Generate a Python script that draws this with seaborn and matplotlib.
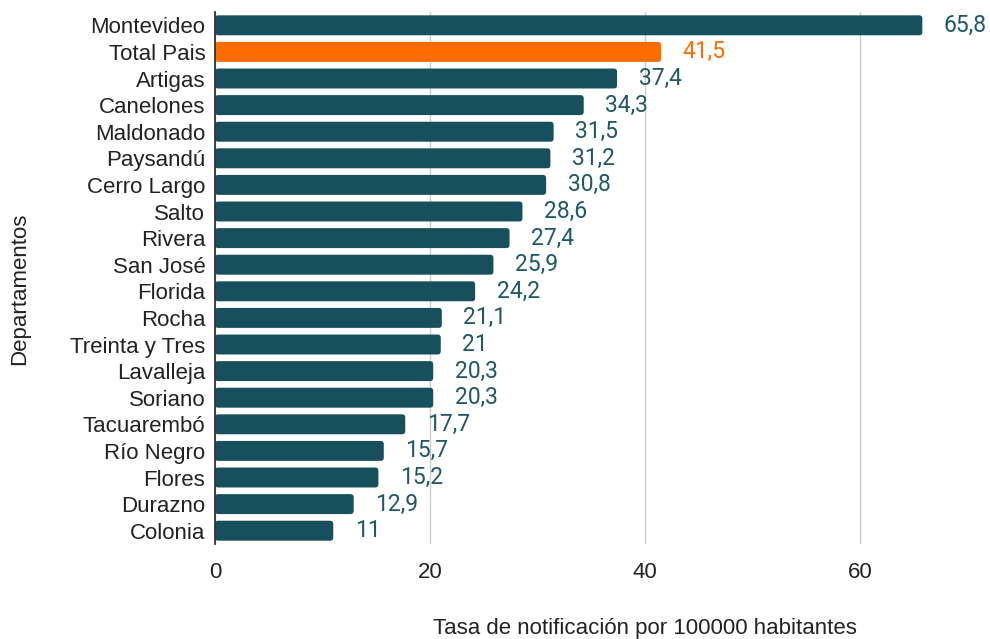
import numpy as np
import pandas as pd
import matplotlib
matplotlib.use('Agg')
import matplotlib.pyplot as plt
import seaborn as sns
from matplotlib.patches import FancyBboxPatch

# ── data ──────────────────────────────────────────────
departamentos = ['Montevideo', 'Total Pais', 'Artigas', 'Canelones', 'Maldonado',
                 'Paysandú', 'Cerro Largo', 'Salto', 'Rivera', 'San José',
                 'Florida', 'Rocha', 'Treinta y Tres', 'Lavalleja', 'Soriano',
                 'Tacuarembó', 'Río Negro', 'Flores', 'Durazno', 'Colonia']
tasas = [65.8, 41.5, 37.4, 34.3, 31.5, 31.2, 30.8, 28.6, 27.4, 25.9,
         24.2, 21.1, 21, 20.3, 20.3, 17.7, 15.7, 15.2, 12.9, 11]
x_ticks = [0, 20, 40, 60]

TEAL = '#174f5c'
ORANGE = '#ff6d00'
colores = [ORANGE if d == 'Total Pais' else TEAL for d in departamentos]

df = pd.DataFrame({'Departamento': departamentos, 'Tasa': tasas})

sns.set_theme(style='white')
plt.rcParams['font.family'] = ['Liberation Sans', 'DejaVu Sans']

fig = plt.figure(figsize=(9.9, 6.39), dpi=100)
ax = fig.add_axes([215/990, 95/639, 774/990, 532/639])

sns.barplot(data=df, x='Tasa', y='Departamento', hue='Departamento',
            palette=colores, saturation=1, legend=False, width=0.75, ax=ax, zorder=3)

# rounded bars (like the original)
aspect = (774/72) / (532/20)
for p in list(ax.patches):
    x0, y0 = p.get_x(), p.get_y()
    w, h = p.get_width(), p.get_height()
    fc = p.get_facecolor()
    p.remove()
    ax.add_patch(FancyBboxPatch((x0, y0), w, h,
                                boxstyle='round,pad=0,rounding_size=0.3',
                                mutation_aspect=aspect, fc=fc, ec='none', zorder=3))

# value labels
for i, (v, c) in enumerate(zip(tasas, colores)):
    lbl = f'{v:g}'.replace('.', ',')
    ax.text(v + 2.0, i, lbl, va='center', ha='left', fontsize=16.5,
            color=(c if c == ORANGE else '#1f5866'),
            family=['Roboto', 'DejaVu Sans'])

ax.set_xlim(0, 72)
ax.set_ylim(len(departamentos) - 0.5, -0.5)
ax.set_xticks(x_ticks)
ax.grid(axis='x', color='#cccccc', linewidth=1, zorder=0)
ax.grid(axis='y', visible=False)
for s in ['top', 'right', 'bottom']:
    ax.spines[s].set_visible(False)
ax.spines['left'].set_color('#333333')
ax.spines['left'].set_linewidth(1.3)
ax.spines['left'].set_zorder(4)

ax.tick_params(axis='x', length=0, pad=13, labelsize=16, labelcolor='#222222')
ax.tick_params(axis='y', length=0, pad=7, labelsize=16, labelcolor='#222222')

ax.set_xlabel('Tasa de notificación por 100000 habitantes', fontsize=16,
              color='#222222', va='center')
ax.xaxis.set_label_coords(0.556, -0.158)
ax.set_ylabel('Departamentos', fontsize=16, color='#222222', va='center')
ax.yaxis.set_label_coords(-0.253, 0.48)

fig.savefig('out.png', dpi=100)
